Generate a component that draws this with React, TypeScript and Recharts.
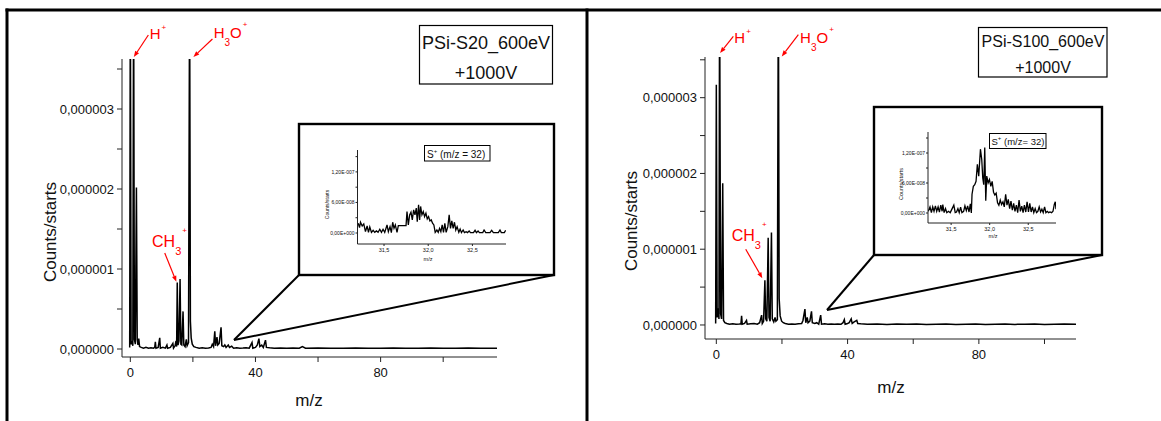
import React from 'react';
import { LineChart, Line, XAxis, YAxis, ReferenceLine } from 'recharts';

const FONT = '"Liberation Sans", Arial, Helvetica, sans-serif';
const RED = '#ff0000';
const INK = '#111';

// m/z, counts/starts in units of 1e-6
const S20_SPECTRUM: [number, number][] = [
  [-0.2, 0.02], [0, 4.6], [0.25, 0.06], [0.55, 0.1], [0.8, 0.04], [1.05, 4.6], [1.3, 0.12], [1.6, 0.06],
  [1.95, 2.02], [2.2, 0.12], [2.45, 0.05], [2.7, 0.13], [2.95, 0.03], [3.5, 0.02], [4.2, 0.01], [5, 0.02],
  [5.8, 0.01], [6.6, 0.015], [7.4, 0.01], [7.8, 0.02], [8.0, 0.09], [8.2, 0.01], [8.9, 0.02], [9.4, 0.14],
  [9.6, 0.01], [10.4, 0.02], [11.2, 0.01], [11.7, 0.05], [11.9, 0.01], [12.8, 0.02], [13.6, 0.07], [13.8, 0.01],
  [14.3, 0.04], [14.6, 0.1], [14.8, 0.03], [15.0, 0.83], [15.25, 0.05], [15.55, 0.1], [15.9, 0.875], [16.15, 0.06],
  [16.45, 0.05], [16.85, 0.47], [17.1, 0.05], [17.5, 0.03], [17.9, 0.12], [18.15, 0.04], [18.6, 0.08], [18.95, 4.6],
  [19.2, 0.35], [19.45, 0.14], [19.8, 0.06], [20.3, 0.03], [21, 0.02], [22, 0.01], [23, 0.015], [24, 0.01],
  [25, 0.012], [25.8, 0.02], [26.2, 0.06], [26.6, 0.03], [27.0, 0.22], [27.25, 0.04], [27.7, 0.15], [27.95, 0.05],
  [28.4, 0.07], [29.0, 0.27], [29.25, 0.04], [29.8, 0.03], [30.2, 0.05], [30.6, 0.02], [31.3, 0.05], [31.7, 0.02],
  [32.4, 0.035], [33, 0.01], [34, 0.015], [35, 0.01], [36, 0.012], [37, 0.015], [38, 0.01], [38.9, 0.08],
  [39.15, 0.01], [40, 0.02], [40.6, 0.05], [41.1, 0.13], [41.4, 0.03], [42.0, 0.05], [42.5, 0.02], [43.2, 0.11],
  [43.5, 0.02], [44.5, 0.015], [46, 0.01], [48, 0.012], [50, 0.008], [52, 0.012], [54, 0.01], [55, 0.03],
  [56, 0.01], [60, 0.012], [64, 0.008], [68, 0.01], [72, 0.012], [76, 0.008], [80, 0.01], [84, 0.012],
  [88, 0.008], [92, 0.01], [96, 0.012], [100, 0.008], [104, 0.01], [108, 0.012], [112, 0.008], [117.2, 0.01],
];

const S100_SPECTRUM: [number, number][] = [
  [-0.2, 0.02], [0, 3.17], [0.25, 0.1], [0.55, 0.22], [0.8, 0.08], [1.0, 4.6], [1.3, 0.15], [1.6, 0.08],
  [1.95, 1.87], [2.2, 0.06], [2.6, 0.03], [3.2, 0.02], [4, 0.01], [5, 0.015], [6, 0.01], [7, 0.012],
  [7.5, 0.015], [7.7, 0.12], [7.9, 0.01], [8.6, 0.02], [9.2, 0.06], [9.4, 0.01], [10.5, 0.015], [11.5, 0.02],
  [12.5, 0.01], [13.2, 0.03], [13.8, 0.13], [14.0, 0.02], [14.4, 0.05], [14.8, 0.59], [15.05, 0.08], [15.4, 0.05],
  [15.8, 1.15], [16.05, 0.1], [16.4, 0.05], [16.8, 1.22], [17.05, 0.08], [17.5, 0.04], [17.9, 0.1], [18.15, 0.05],
  [18.6, 0.07], [18.9, 4.6], [19.15, 0.35], [19.45, 0.12], [19.9, 0.05], [20.4, 0.03], [21, 0.02], [22, 0.01],
  [23, 0.012], [24, 0.01], [25, 0.015], [26, 0.02], [26.4, 0.06], [27.0, 0.21], [27.25, 0.03], [27.7, 0.1],
  [27.95, 0.03], [28.5, 0.05], [29.0, 0.18], [29.25, 0.03], [30, 0.02], [30.6, 0.03], [31.2, 0.01], [31.8, 0.13],
  [32.05, 0.01], [33, 0.015], [34, 0.01], [35, 0.012], [36, 0.01], [37, 0.012], [38, 0.01], [38.6, 0.03],
  [39.0, 0.07], [39.25, 0.01], [40, 0.02], [40.5, 0.03], [41.1, 0.08], [41.4, 0.02], [42, 0.04], [42.8, 0.06],
  [43.1, 0.02], [44, 0.015], [46, 0.01], [49, 0.012], [52, 0.008], [55, 0.012], [58, 0.01], [61, 0.012],
  [64, 0.008], [67, 0.01], [70, 0.012], [73, 0.008], [76, 0.01], [79, 0.012], [82, 0.008], [85, 0.01],
  [88, 0.012], [91, 0.008], [94, 0.01], [97, 0.012], [100, 0.008], [103, 0.01], [106, 0.012], [109.6, 0.01],
];

// inset S+ region: m/z, counts/starts in units of 1e-8
const S20_INSET: [number, number][] = [
  [31.208, 1.91], [31.223, 1.05], [31.234, 2.11], [31.253, 1.38], [31.271, 1.78], [31.29, 0.26], [31.309, 1.38],
  [31.324, 0.13], [31.339, 1.19], [31.358, 0.13], [31.377, 0.53], [31.395, 0.13], [31.414, 0.4], [31.433, 0.13],
  [31.452, 0.73], [31.471, 0.13], [31.489, 0.73], [31.508, 0.13], [31.534, 1.58], [31.549, 0.26], [31.568, 1.25],
  [31.583, 0.07], [31.598, 2.11], [31.613, 0.92], [31.628, 1.58], [31.647, 0.13], [31.662, 1.45], [31.749, 1.45],
  [31.76, 4.22], [31.775, 1.58], [31.79, 3.56], [31.805, 4.09], [31.82, 2.57], [31.835, 4.55], [31.85, 3.56],
  [31.865, 4.88], [31.876, 2.24], [31.891, 5.54], [31.903, 2.57], [31.914, 5.21], [31.929, 3.56], [31.944, 4.22],
  [31.959, 3.23], [31.974, 3.89], [31.989, 2.77], [32.004, 3.23], [32.019, 2.37], [32.034, 2.57], [32.049, 1.91],
  [32.064, 1.58], [32.079, 0.13], [32.098, 0.59], [32.113, 0.13], [32.128, 0.92], [32.143, 0.26], [32.158, 1.58],
  [32.173, 0.13], [32.188, 1.91], [32.203, 0.13], [32.222, 1.25], [32.237, 3.56], [32.252, 0.92], [32.267, 2.37],
  [32.282, 0.92], [32.297, 2.11], [32.312, 0.59], [32.327, 1.25], [32.346, 0.13], [32.361, 0.79], [32.376, 0.07],
  [32.395, 0.59], [32.41, 0.07], [32.429, 0.26], [32.444, 0.07], [32.463, 0.4], [32.478, 0.07], [32.512, 0.07],
  [32.53, 0.53], [32.545, 0.07], [32.564, 0.4], [32.579, 0.07], [32.617, 0.07], [32.632, 0.59], [32.651, 0.07],
  [32.699, 0.07], [32.718, 0.53], [32.737, 0.07], [32.793, 0.07], [32.812, 0.59], [32.827, 0.07], [32.861, 0.07],
  [32.876, 0.53],
];

const S100_INSET: [number, number][] = [
  [31.204, 0.34], [31.226, 1.23], [31.244, 0.07], [31.261, 1.23], [31.278, 0.34], [31.296, 1.43], [31.313, 0.34],
  [31.331, 1.23], [31.348, 0.2], [31.366, 1.57], [31.383, 0.34], [31.392, 1.7], [31.409, 0.07], [31.427, 0.89],
  [31.444, 0.07], [31.466, 0.34], [31.488, 0.07], [31.518, 1.02], [31.535, 1.57], [31.553, 0.07], [31.57, 0.2],
  [31.588, 0.89], [31.605, 0.07], [31.623, 1.16], [31.64, 0.07], [31.662, 0.34], [31.679, 1.43], [31.697, 0.48],
  [31.714, 1.43], [31.732, 0.2], [31.749, 1.84], [31.762, 0.0], [31.771, 3.75], [31.788, 5.32], [31.806, 5.66],
  [31.823, 6.34], [31.84, 9.75], [31.858, 7.37], [31.88, 12.76], [31.897, 10.71], [31.91, 7.03], [31.923, 5.66],
  [31.936, 13.1], [31.949, 2.46], [31.962, 7.37], [31.98, 6.0], [31.997, 6.68], [32.015, 5.32], [32.032, 6.34],
  [32.05, 4.16], [32.067, 3.61], [32.084, 3.96], [32.102, 2.05], [32.119, 1.57], [32.137, 2.59], [32.154, 1.7],
  [32.172, 2.25], [32.189, 1.23], [32.207, 3.75], [32.224, 1.57], [32.241, 2.73], [32.259, 0.89], [32.276, 2.39],
  [32.294, 0.55], [32.311, 1.91], [32.328, 0.34], [32.346, 1.57], [32.363, 0.07], [32.381, 2.59], [32.398, 0.34],
  [32.416, 1.36], [32.433, 0.07], [32.45, 1.57], [32.468, 0.2], [32.485, 2.25], [32.503, 0.2], [32.52, 1.91],
  [32.538, 0.2], [32.555, 1.23], [32.572, 0.07], [32.59, 0.89], [32.607, 0.07], [32.625, 0.34], [32.642, 1.23],
  [32.66, 0.2], [32.677, 0.75], [32.694, 0.07], [32.712, 1.23], [32.729, 0.07], [32.747, 0.34], [32.764, 0.07],
  [32.782, 0.2], [32.803, 0.07], [32.821, 0.34], [32.838, 1.7], [32.851, 2.25], [32.86, 0.75],
];

const MAIN_X_TICKS = [0, 20, 40, 60, 80, 100];
const MAIN_X_LABELED = [0, 40, 80];
const MAIN_Y_TICKS = [0, 0.5, 1, 1.5, 2, 2.5, 3, 3.5];
const INSET_X_TICKS = [31.5, 32, 32.5];
const INSET_Y_TICKS = [0, 3, 6, 9, 12, 15];
const INSET_Y_LABELS: Record<number, string> = { 0: '0,00E+000', 6: '6,00E-008', 12: '1,20E-007' };

type Ion = 'H+' | 'H3O+' | 'CH3+';
type Arrow = { ion: Ion; tail: [number, number]; tip: [number, number]; dx: number; dy: number };

// arrow tail/tip in data units, label offset from tail in px
const S20_ARROWS: Arrow[] = [
  { ion: 'H+', tail: [5.76, 3.925], tip: [1.12, 3.65], dx: 1.3, dy: 4.3 },
  { ion: 'H3O+', tail: [26.24, 3.875], tip: [20.16, 3.65], dx: 1.3, dy: -0.7 },
  { ion: 'CH3+', tail: [11.0, 1.2], tip: [14.72, 0.84], dx: -12.7, dy: -6.3 },
];
const S100_ARROWS: Arrow[] = [
  { ion: 'H+', tail: [5.18, 3.808], tip: [1.13, 3.589], dx: 1, dy: 6.6 },
  { ion: 'H3O+', tail: [25.0, 3.831], tip: [19.94, 3.544], dx: 1.7, dy: 8.3 },
  { ion: 'CH3+', tail: [8.96, 1.0], tip: [14.02, 0.617], dx: -14, dy: -8.6 },
];

const toRows = (pts: [number, number][]) => pts.map(([mz, c]) => ({ mz, c }));

function ionText(ion: Ion) {
  if (ion === 'H+') {
    return [<tspan key="a">H</tspan>, <tspan key="b" fontSize={8} dx={1} dy={-9}>+</tspan>];
  }
  if (ion === 'H3O+') {
    return [
      <tspan key="a">H</tspan>,
      <tspan key="b" fontSize={10} dy={8}>3</tspan>,
      <tspan key="c" dy={-8}>O</tspan>,
      <tspan key="d" fontSize={8} dx={1} dy={-11.5}>+</tspan>,
    ];
  }
  return [
    <tspan key="a">CH</tspan>,
    <tspan key="b" fontSize={11} dy={8}>3</tspan>,
    <tspan key="c" fontSize={8} dx={1} dy={-21.5}>+</tspan>,
  ];
}

function arrowShape(a: Arrow) {
  return (p: any) => {
    const { x1, y1, x2, y2 } = p;
    const ang = Math.atan2(y2 - y1, x2 - x1);
    const len = 6;
    const half = 2.3;
    const bx = x2 - len * Math.cos(ang);
    const by = y2 - len * Math.sin(ang);
    const nx = -Math.sin(ang) * half;
    const ny = Math.cos(ang) * half;
    return (
      <g>
        <line x1={x1} y1={y1} x2={bx} y2={by} stroke={RED} strokeWidth={1.2} />
        <polygon points={`${x2},${y2} ${bx + nx},${by + ny} ${bx - nx},${by - ny}`} fill={RED} />
        <text x={x1 + a.dx} y={y1 + a.dy} fill={RED} fontSize={a.ion === 'CH3+' ? 16 : 15} fontFamily={FONT}>
          {ionText(a.ion)}
        </text>
      </g>
    );
  };
}

const mainXTick = (props: any) => {
  const { x, y, payload } = props;
  if (!MAIN_X_LABELED.includes(payload.value)) return <g />;
  return (
    <text x={x} y={y} dy="0.71em" textAnchor="middle" fontSize={13} fontFamily={FONT} fill={INK}>
      {payload.value}
    </text>
  );
};

const mainYTick = (props: any) => {
  const { x, y, payload } = props;
  const v = payload.value;
  if (Math.abs(v - Math.round(v)) > 1e-9) return <g />;
  return (
    <text x={x} y={y} dy="0.35em" textAnchor="end" fontSize={13} fontFamily={FONT} fill={INK}>
      {(v * 1e-6).toFixed(6).replace('.', ',')}
    </text>
  );
};

const insetXTick = (props: any) => {
  const { x, y, payload } = props;
  return (
    <text x={x} y={y} dy="0.71em" textAnchor="middle" fontSize={5.5} fontFamily={FONT} fill={INK}>
      {payload.value.toFixed(1).replace('.', ',')}
    </text>
  );
};

const insetYTick = (props: any) => {
  const { x, y, payload } = props;
  const label = INSET_Y_LABELS[payload.value];
  if (!label) return <g />;
  return (
    <text x={x} y={y} dy="0.35em" textAnchor="end" fontSize={5} fontFamily={FONT} fill={INK}>
      {label}
    </text>
  );
};

type MainProps = {
  left: number;
  width: number;
  spectrum: [number, number][];
  xDomain: [number, number];
  yDomain: [number, number];
  margin: { top: number; right: number; bottom: number; left: number };
  arrows: Arrow[];
};

function MainSpectrum({ left, width, spectrum, xDomain, yDomain, margin, arrows }: MainProps) {
  const axisStyle = { stroke: '#222', strokeWidth: 1 };
  return (
    <div style={{ position: 'absolute', left, top: 0 }}>
      <LineChart width={width} height={421} data={toRows(spectrum)} margin={margin}>
        <XAxis
          type="number"
          dataKey="mz"
          domain={xDomain}
          allowDataOverflow
          ticks={MAIN_X_TICKS.filter((t) => t <= xDomain[1])}
          interval={0}
          height={30}
          tickSize={5}
          tickMargin={6}
          axisLine={axisStyle}
          tickLine={axisStyle}
          tick={mainXTick}
        />
        <YAxis
          type="number"
          domain={yDomain}
          allowDataOverflow
          ticks={MAIN_Y_TICKS}
          interval={0}
          width={70}
          tickSize={5}
          tickMargin={3}
          axisLine={axisStyle}
          tickLine={axisStyle}
          tick={mainYTick}
        />
        <Line type="linear" dataKey="c" stroke="#000" strokeWidth={1.5} dot={false} isAnimationActive={false} />
        {arrows.map((a) => (
          <ReferenceLine
            key={a.ion}
            segment={[{ x: a.tail[0], y: a.tail[1] }, { x: a.tip[0], y: a.tip[1] }]}
            ifOverflow="visible"
            shape={arrowShape(a)}
          />
        ))}
      </LineChart>
    </div>
  );
}

type InsetProps = {
  left: number;
  top: number;
  width: number;
  height: number;
  points: [number, number][];
  xDomain: [number, number];
  yDomain: [number, number];
  margin: { top: number; right: number; bottom: number; left: number };
  yWidth: number;
};

function InsetSpectrum({ left, top, width, height, points, xDomain, yDomain, margin, yWidth }: InsetProps) {
  const axisStyle = { stroke: '#222', strokeWidth: 1 };
  return (
    <div style={{ position: 'absolute', left, top }}>
      <LineChart width={width} height={height} data={toRows(points)} margin={margin}>
        <XAxis
          type="number"
          dataKey="mz"
          domain={xDomain}
          allowDataOverflow
          ticks={INSET_X_TICKS}
          interval={0}
          height={12}
          tickSize={2}
          tickMargin={2}
          axisLine={axisStyle}
          tickLine={axisStyle}
          tick={insetXTick}
        />
        <YAxis
          type="number"
          domain={yDomain}
          allowDataOverflow
          ticks={INSET_Y_TICKS}
          interval={0}
          width={yWidth}
          tickSize={2}
          tickMargin={1}
          axisLine={axisStyle}
          tickLine={axisStyle}
          tick={insetYTick}
        />
        <Line type="linear" dataKey="c" stroke="#000" strokeWidth={1.3} dot={false} isAnimationActive={false} />
      </LineChart>
    </div>
  );
}

export default function App() {
  const txt = { fontFamily: FONT, fill: INK };
  return (
    <div style={{ position: 'absolute', left: 0, top: 0, width: 1161, height: 421, background: '#fff', overflow: 'hidden' }}>
      <MainSpectrum
        left={0}
        width={580}
        spectrum={S20_SPECTRUM}
        xDomain={[-2.66, 117.2]}
        yDomain={[-0.1, 3.625]}
        margin={{ top: 59, right: 83, bottom: 34, left: 52 }}
        arrows={S20_ARROWS}
      />
      <MainSpectrum
        left={580}
        width={581}
        spectrum={S100_SPECTRUM}
        xDomain={[-3.45, 109.6]}
        yDomain={[-0.185, 3.537]}
        margin={{ top: 57, right: 85, bottom: 52, left: 55 }}
        arrows={S100_ARROWS}
      />
      <InsetSpectrum
        left={299}
        top={124}
        width={255}
        height={151}
        points={S20_INSET}
        xDomain={[31.2, 32.88]}
        yDomain={[-2.16, 16.3]}
        margin={{ top: 26, right: 48, bottom: 19, left: 18.5 }}
        yWidth={40}
      />
      <InsetSpectrum
        left={874}
        top={107}
        width={228}
        height={148}
        points={S100_INSET}
        xDomain={[31.2, 32.86]}
        yDomain={[-2, 16.2]}
        margin={{ top: 25, right: 46, bottom: 20, left: 18 }}
        yWidth={36}
      />
      <svg width={1161} height={421} style={{ position: 'absolute', left: 0, top: 0, pointerEvents: 'none' }}>
        {/* frame */}
        <line x1={5.5} y1={10} x2={1161} y2={10} stroke="#000" strokeWidth={3} />
        <line x1={7} y1={8.5} x2={7} y2={421} stroke="#000" strokeWidth={3} />
        <line x1={587} y1={8.5} x2={587} y2={421} stroke="#000" strokeWidth={3} />

        {/* sample boxes */}
        <rect x={419.5} y={25.5} width={133} height={58.5} fill="#fff" stroke="#000" strokeWidth={1.2} />
        <text x={486} y={49} textAnchor="middle" fontSize={18} {...txt}>PSi-S20_600eV</text>
        <text x={486} y={79} textAnchor="middle" fontSize={18} {...txt}>+1000V</text>
        <rect x={978.5} y={27.5} width={128.5} height={49.5} fill="#fff" stroke="#000" strokeWidth={1.2} />
        <text x={1043} y={46.6} textAnchor="middle" fontSize={16} {...txt}>PSi-S100_600eV</text>
        <text x={1043} y={72.6} textAnchor="middle" fontSize={16} {...txt}>+1000V</text>

        {/* axis titles */}
        <text transform="translate(55.5,232) rotate(-90)" textAnchor="middle" fontSize={17} {...txt}>Counts/starts</text>
        <text x={309} y={406} textAnchor="middle" fontSize={17} {...txt}>m/z</text>
        <text transform="translate(637,221) rotate(-90)" textAnchor="middle" fontSize={17} {...txt}>Counts/starts</text>
        <text x={891} y={393} textAnchor="middle" fontSize={17} {...txt}>m/z</text>

        {/* zoom callouts */}
        <rect x={299} y={124} width={255} height={151} fill="none" stroke="#000" strokeWidth={2.4} />
        <line x1={299} y1={275} x2={234} y2={340} stroke="#000" strokeWidth={2} />
        <line x1={554} y1={275} x2={234} y2={340} stroke="#000" strokeWidth={2} />
        <rect x={874} y={107} width={228} height={148} fill="none" stroke="#000" strokeWidth={2.4} />
        <line x1={874} y1={255} x2={827} y2={310} stroke="#000" strokeWidth={2} />
        <line x1={1102} y1={255} x2={827} y2={310} stroke="#000" strokeWidth={2} />

        {/* inset titles */}
        <text transform="translate(328.5,204.5) rotate(-90)" textAnchor="middle" fontSize={5} {...txt}>Counts/starts</text>
        <text x={428} y={261} textAnchor="middle" fontSize={5.5} {...txt}>m/z</text>
        <text transform="translate(903,184) rotate(-90)" textAnchor="middle" fontSize={5.4} {...txt}>Counts/starts</text>
        <text x={993} y={238} textAnchor="middle" fontSize={5.5} {...txt}>m/z</text>

        {/* inset legends */}
        <rect x={424.5} y={145.5} width={65.5} height={15.5} fill="#fff" stroke="#000" strokeWidth={1} />
        <text x={427} y={157.5} fontSize={10} {...txt}>
          <tspan>S</tspan>
          <tspan fontSize={6} dy={-5}>+</tspan>
          <tspan dy={5}> (m/z = 32)</tspan>
        </text>
        <rect x={989.5} y={133.5} width={56.5} height={15} fill="#fff" stroke="#000" strokeWidth={1} />
        <text x={991.5} y={145} fontSize={9.5} {...txt}>
          <tspan>S</tspan>
          <tspan fontSize={6} dy={-5}>+</tspan>
          <tspan dy={5}> (m/z= 32)</tspan>
        </text>
      </svg>
    </div>
  );
}
